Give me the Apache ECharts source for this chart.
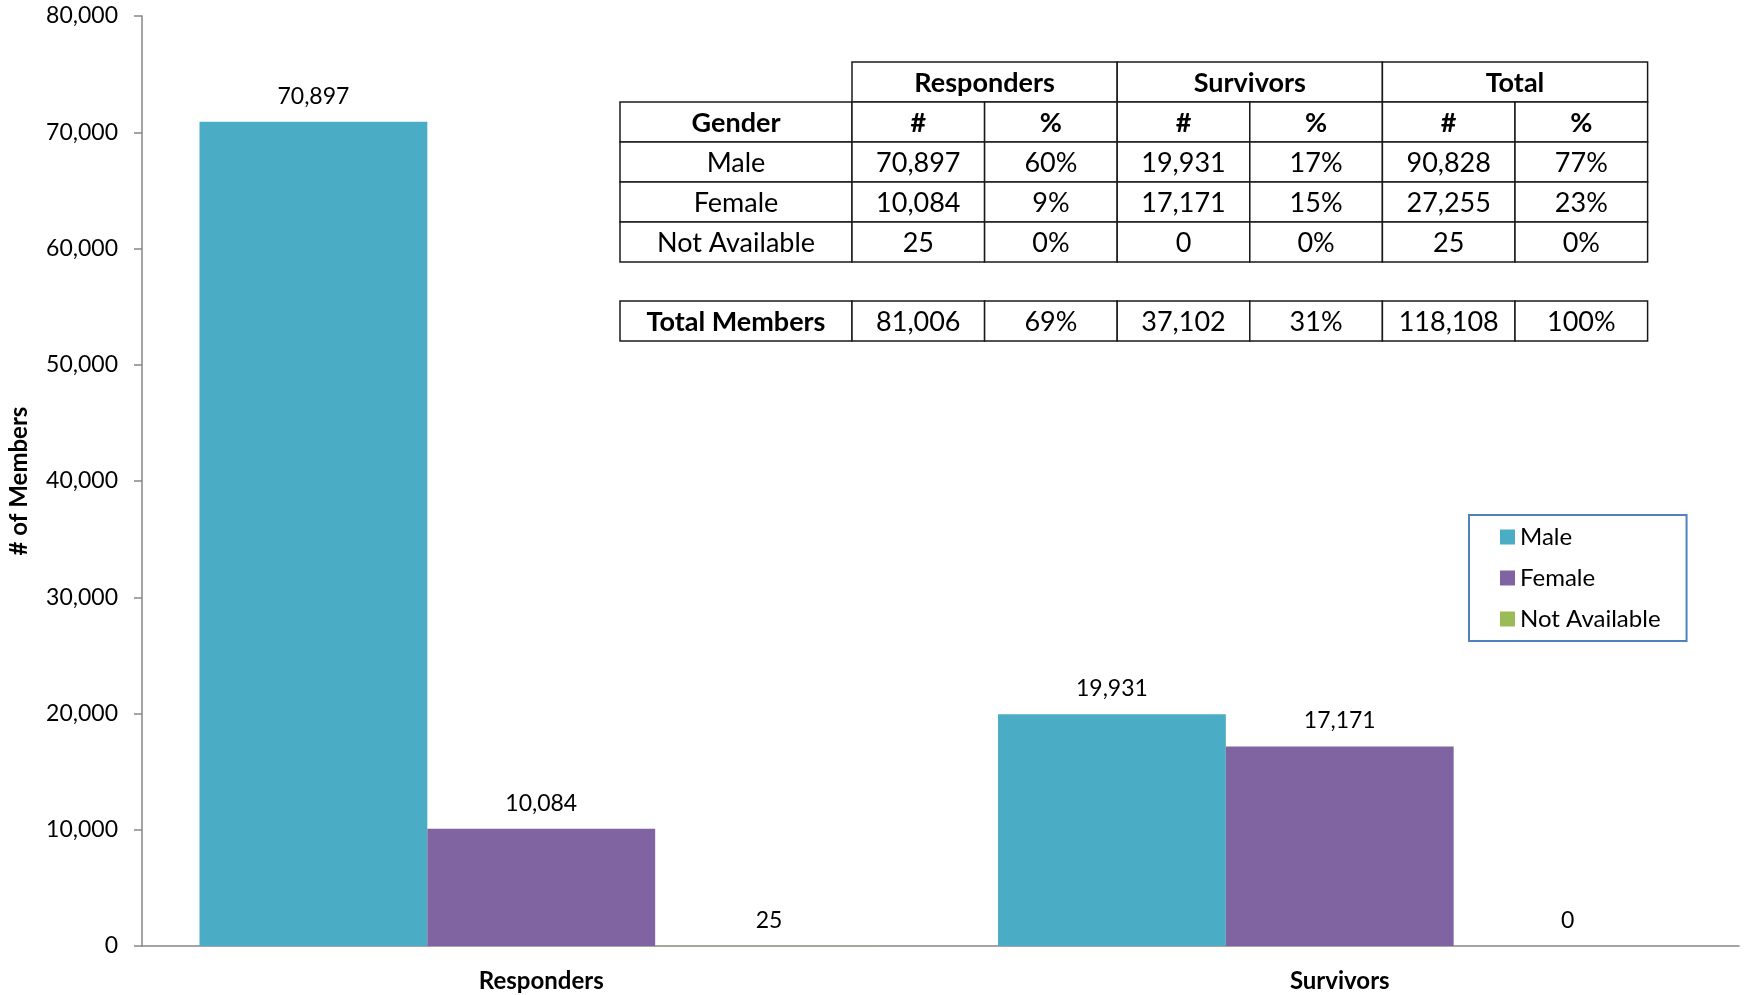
<!DOCTYPE html>
<html>
<head>
<meta charset="utf-8">
<script src="https://cdn.jsdelivr.net/npm/echarts@6/dist/echarts.min.js"></script>
<style>
  html, body { margin: 0; padding: 0; background: #fff; }
  #main { width: 1746px; height: 995px; }
</style>
</head>
<body>
<div id="main"></div>
<script>
// data
var categories = ["Responders", "Survivors"];
var maleVals = [70897, 19931];
var femaleVals = [10084, 17171];
var naVals = [25, 0];
var yTicks = [0, 10000, 20000, 30000, 40000, 50000, 60000, 70000, 80000];

var tableGroups = ["Responders", "Survivors", "Total"];
var tableSubHeads = ["Gender", "#", "%", "#", "%", "#", "%"];
var genderNames = ["Male", "Female", "Not Available"];

var FONT = "Lato, 'Open Sans', sans-serif";
var fmt = function (v) { return Number(v).toLocaleString("en-US"); };

// table rows built from the series values
var grandTotal = 0;
[maleVals, femaleVals, naVals].forEach(function (a) { a.forEach(function (v) { grandTotal += v; }); });
var pct = function (v) { return Math.round(v / grandTotal * 100) + "%"; };
var tableRows = [maleVals, femaleVals, naVals].map(function (a, i) {
  var tot = a[0] + a[1];
  return [genderNames[i], fmt(a[0]), pct(a[0]), fmt(a[1]), pct(a[1]), fmt(tot), pct(tot)];
});
var respTot = maleVals[0] + femaleVals[0] + naVals[0];
var survTot = maleVals[1] + femaleVals[1] + naVals[1];
var totalRow = ["Total Members", fmt(respTot), pct(respTot), fmt(survTot), pct(survTot), fmt(grandTotal), pct(grandTotal)];

// table layout
var tX = 620, tY = 62, rowH = 40, firstW = 232, colW = 132.6, totalY = 301;
var colX = [tX];
for (var c = 0; c < 7; c++) colX.push(colX[c] + (c === 0 ? firstW : colW));

var gfx = [];
function cell(x, y, w, h, text, bold) {
  gfx.push({
    type: "rect", shape: { x: x, y: y, width: w, height: h },
    style: { fill: "#fff", stroke: "#1a1a1a", lineWidth: 1.5 }, z: 10
  });
  gfx.push({
    type: "text", x: x + w / 2, y: y + h / 2 + 1, z: 11,
    style: {
      text: text, fill: "#000", textAlign: "center", textVerticalAlign: "middle",
      font: (bold ? "bold " : "") + "27px " + FONT
    }
  });
}
tableGroups.forEach(function (g, i) {
  var x0 = colX[1 + i * 2];
  cell(x0, tY, colX[3 + i * 2] - x0, rowH, g, true);
});
tableSubHeads.forEach(function (h, c) {
  cell(colX[c], tY + rowH, colX[c + 1] - colX[c], rowH, h, true);
});
tableRows.forEach(function (row, r) {
  row.forEach(function (v, c) {
    cell(colX[c], tY + rowH * (r + 2), colX[c + 1] - colX[c], rowH, v, false);
  });
});
totalRow.forEach(function (v, c) {
  cell(colX[c], totalY, colX[c + 1] - colX[c], rowH, v, c === 0);
});

var chartDom = document.getElementById("main");
var myChart = echarts.init(chartDom);
var option;

var labelCfg = {
  show: true, position: "top", distance: 14,
  fontFamily: FONT, fontSize: 23, color: "#000",
  formatter: function (p) { return fmt(p.value); }
};

option = {
  animation: false,
  backgroundColor: "#fff",
  textStyle: { fontFamily: FONT },
  grid: { left: 142, right: 7, top: 16, bottom: 49, outerBoundsMode: "none", containLabel: false },
  legend: {
    orient: "vertical",
    left: 1469, top: 515,
    padding: [9, 26, 9, 31],
    borderColor: "#4F81BD", borderWidth: 2,
    backgroundColor: "#fff",
    itemWidth: 15, itemHeight: 15, itemGap: 15,
    icon: "rect",
    textStyle: { fontFamily: FONT, fontSize: 24, color: "#000", lineHeight: 26 },
    data: ["Male", "Female", "Not Available"]
  },
  xAxis: {
    type: "category",
    data: categories,
    axisLine: { lineStyle: { color: "#868686", width: 1.5 } },
    axisTick: { show: false },
    axisLabel: { margin: 23, fontFamily: FONT, fontSize: 24, fontWeight: "bold", color: "#000" }
  },
  yAxis: {
    type: "value",
    min: yTicks[0], max: yTicks[yTicks.length - 1], interval: yTicks[1] - yTicks[0],
    name: "# of Members",
    nameLocation: "middle", nameRotate: 90, nameGap: 111,
    nameTextStyle: { fontFamily: FONT, fontSize: 24, fontWeight: "bold", color: "#000" },
    axisLine: { show: true, lineStyle: { color: "#868686", width: 1.5 } },
    axisTick: { show: true, length: 8, lineStyle: { color: "#868686", width: 1.5 } },
    splitLine: { show: false },
    axisLabel: { margin: 24, fontFamily: FONT, fontSize: 23, color: "#000", formatter: fmt }
  },
  series: [
    { name: "Male", type: "bar", data: maleVals, itemStyle: { color: "#4BACC6" },
      barGap: "0%", barCategoryGap: "14.4%", label: labelCfg },
    { name: "Female", type: "bar", data: femaleVals, itemStyle: { color: "#8064A2" },
      label: labelCfg },
    { name: "Not Available", type: "bar", data: naVals, itemStyle: { color: "#9BBB59" },
      label: labelCfg }
  ],
  graphic: gfx
};

option && myChart.setOption(option);
</script>
</body>
</html>
